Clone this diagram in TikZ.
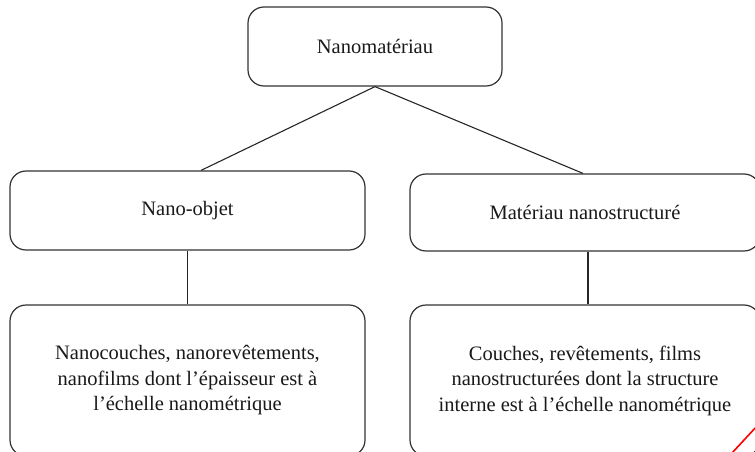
\documentclass[tikz,border=0pt]{standalone}
\usepackage{fontspec}
\setmainfont{Liberation Serif}
\usetikzlibrary{positioning}

\begin{document}
\begin{tikzpicture}[x=1pt, y=-1pt,
    box/.style={draw=black!80, line width=1.2pt, rounded corners=16pt,
      align=center, inner sep=0pt, text=black!90, font=\fontsize{20.5}{25.5}\selectfont},
    link/.style={draw=black!85, line width=1.1pt}]
  \useasboundingbox (0,0) rectangle (755,452);

  % top level
  \node[box, minimum width=254pt, minimum height=79pt] (nanomat) at (375,46.5) {Nanomatériau};

  % second level
  \node[box, minimum width=355pt, minimum height=79pt] (nanoobj) at (187.5,210.5) {Nano-objet};
  \node[box, minimum width=350pt, minimum height=77pt] (nanostruct) at (585,212.5) {Matériau nanostructuré};

  % descriptions
  \node[box, minimum width=355pt, minimum height=151pt] (objdesc) at (187.5,380.5)
    {Nanocouches, nanorevêtements,\\ nanofilms dont l’épaisseur est à\\ l’échelle nanométrique};
  \node[box, minimum width=350pt, minimum height=151pt] (structdesc) at (585,380.5)
    {Couches, revêtements, films\\ nanostructurées dont la structure\\ interne est à l’échelle nanométrique};

  \draw[link] (nanomat.south) -- ([xshift=13.5pt]nanoobj.north);
  \draw[link] (nanomat.south) -- ([xshift=-2pt]nanostruct.north);
  \draw[link] (nanoobj.south) -- (objdesc.north);
  \draw[link] ([xshift=3pt]nanostruct.south) -- ([xshift=3pt]structdesc.north);

  \draw[red, line width=1.6pt] (732,453) -- (757,426);
\end{tikzpicture}
\end{document}
